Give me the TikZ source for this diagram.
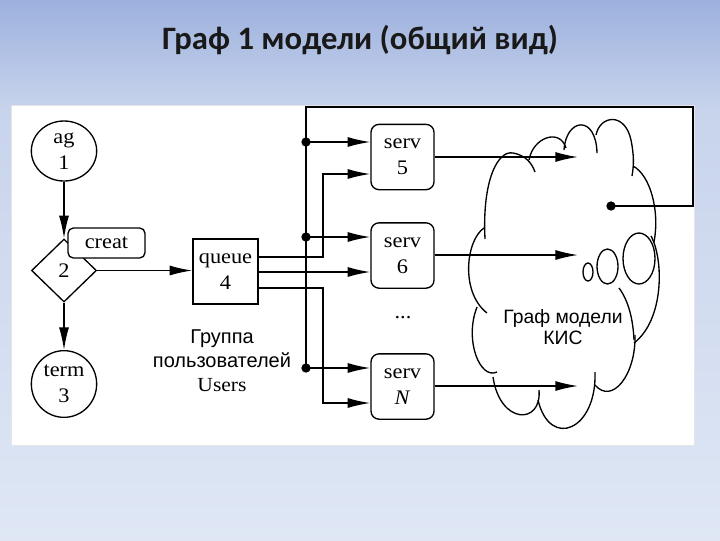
\documentclass[tikz,border=0pt]{standalone}
\usepackage{fontspec}
\setmainfont{Liberation Serif}
\newfontfamily\titlefont{Carlito}
\newfontfamily\dsans{Liberation Sans}
\newfontfamily\dserif[FakeStretch=1.08]{Liberation Serif}
\usetikzlibrary{arrows.meta,shapes.geometric}
\definecolor{bgtop}{RGB}{157,177,222}
\definecolor{bgmid}{RGB}{200,212,236}
\definecolor{bgbot}{RGB}{223,231,245}
\begin{document}
\begin{tikzpicture}[x=0.75pt,y=-0.75pt,
  txt/.style={font=\dserif\fontsize{15.5}{19.5}\selectfont, align=center},
  ln/.style={line width=1.1pt},
  arr/.style={ln,-{Latex[length=17pt,width=7.5pt]}},
  circ/.style={ellipse, draw, line width=1pt, inner sep=0pt, txt, fill=white},
  dia/.style={diamond, draw, line width=1pt, aspect=1, inner sep=0pt, txt, fill=white},
  sqbox/.style={rectangle, draw, line width=1pt, inner sep=0pt, txt, fill=white},
  sbox/.style={rectangle, draw, line width=1pt, inner sep=0pt, rounded corners=6pt, txt, fill=white, minimum width=47.25pt, minimum height=49pt},
  dot/.style={circle, fill=black, inner sep=0pt, minimum size=7pt},
  cl/.style={line width=1pt}]
\useasboundingbox (0,0) rectangle (720,540);
% background
\shade[top color=bgtop, bottom color=bgmid] (0,0) rectangle (720,110);
\shade[top color=bgmid, bottom color=bgbot] (0,110) rectangle (720,540);
\fill[white, draw=black!10] (11,105) rectangle (694,445);
% title
\node[font=\titlefont\bfseries\fontsize{24.5}{28}\selectfont, text=black!90, anchor=base] (title) at (360,49) {Граф 1 модели (общий вид)};

% left part
\node[circ, minimum width=49pt, minimum height=45pt] (ag) at (64,151) {ag\\1};
\node[circ, minimum width=49pt, minimum height=50pt] (term) at (64,384) {term\\3};
\node[dia, minimum width=48.75pt, minimum height=47.25pt] (dm) at (64,270.5) {2};
\node[sqbox, rounded corners=4pt, minimum width=57.75pt, minimum height=22.5pt] (cr) at (106.5,243) {creat};
\node[sqbox, minimum width=48.75pt, minimum height=48.75pt] (q) at (225.5,271.5) {queue\\4};
\node[font=\dsans\fontsize{15}{18}\selectfont, align=center] (grp) at (222,361) {Группа\\пользователей\\{\dserif Users}};

\draw[arr] (ag.south) -- (dm.north);
\draw[arr] (dm.south) -- (term.north);
\draw[arr] (dm.east) -- (q.west |- dm.east);

% servers
\node[sbox] (s5) at (402.5,157) {serv\\5};
\node[sbox] (s6) at (402.5,255.5) {serv\\6};
\node[sbox] (sN) at (402.5,386.5) {serv\\\textit{N}};
\node[txt] (dts) at (403,318) {...};

% cloud
\draw[cl] (484,228) .. controls (466,240) and (460,292) .. (487,313);
\draw[cl] (485,239) .. controls (482,180) and (498,150) .. (513,153) .. controls (525,155) and (532,163) .. (535,172);
\draw[cl] (529,160) .. controls (533,137) and (560,128) .. (566,148);
\draw[cl] (564,150) .. controls (566,118) and (596,114) .. (597,153);
\draw[cl] (596,135) .. controls (600,115) and (625,112) .. (631,140) .. controls (634,155) and (634,165) .. (632,176);
\draw[cl] (633,166) .. controls (650,175) and (660,210) .. (654,242);
\draw[cl] (651,236) .. controls (664,260) and (664,320) .. (634,343);
\draw[cl] (619,288) .. controls (628,300) and (633,318) .. (634,340);
\draw[cl] (635,335) .. controls (636,375) and (612,405) .. (595,385);
\draw[cl] (595,372) .. controls (597,430) and (550,450) .. (538,400);
\draw[cl] (539,390) .. controls (542,425) and (500,425) .. (493,377);
\draw[cl] (497,372) .. controls (480,380) and (464,340) .. (477,307);
\draw[cl] (588,272) ellipse [x radius=5, y radius=9];
\draw[cl] (607.5,266.5) ellipse [x radius=10.5, y radius=17.5];
\draw[cl] (639,258.5) ellipse [x radius=16, y radius=25.5];
\node[font=\dsans\fontsize{14.5}{15.5}\selectfont, align=center] (ct) at (563,327) {Граф модели\\КИС};

% dots and feedback
\node[dot] (fb) at (611,206) {};
\node[dot] (d5) at (306,142) {};
\node[dot] (d6) at (306,237) {};
\node[dot] (dN) at (306,368) {};
\coordinate (tr) at (693,107);
\coordinate (tl) at (306,107);
\draw[ln] (fb.center) -| (tr) -- (tl) -- (dN.center);

\draw[arr] (d5.center) -- (s5.west |- d5);
\draw[arr] (d6.center) -- (s6.west |- d6);
\draw[arr] (dN.center) -- (sN.west |- dN);

% queue outputs
\coordinate (j1) at (323,257);
\coordinate (j1b) at (323,174);
\coordinate (j2) at (300,272);
\coordinate (j3) at (323,288);
\coordinate (j3b) at (323,403);
\draw[arr] (q.east |- j1) -- (j1) -- (j1b) -- (s5.west |- j1b);
\draw[arr] (q.east |- j2) -- (s6.west |- j2);
\draw[arr] (q.east |- j3) -- (j3) -- (j3b) -- (sN.west |- j3b);

% into cloud
\coordinate (c5) at (578,157);
\coordinate (c6) at (578,255);
\coordinate (cN) at (578,386);
\draw[arr] (s5.east |- c5) -- (c5);
\draw[arr] (s6.east |- c6) -- (c6);
\draw[arr] (sN.east |- cN) -- (cN);
\end{tikzpicture}
\end{document}
